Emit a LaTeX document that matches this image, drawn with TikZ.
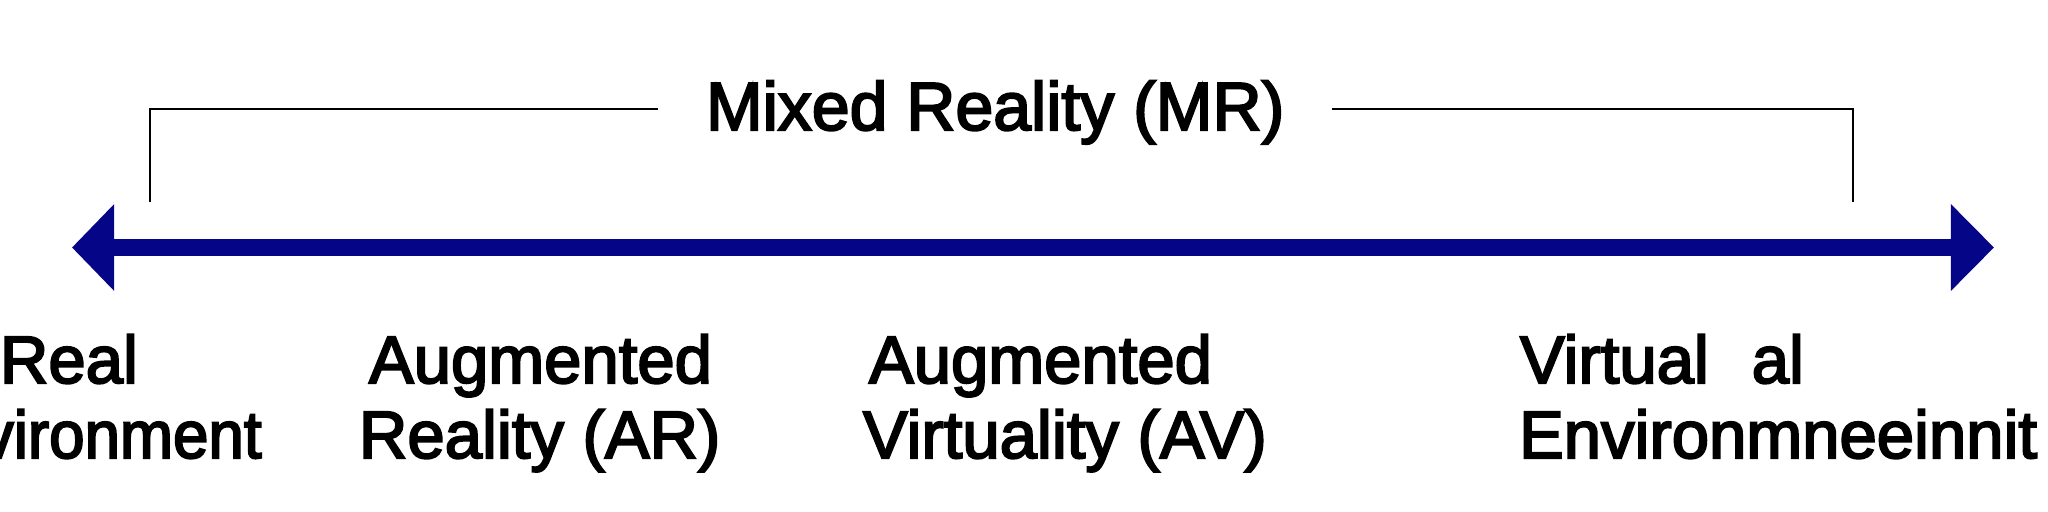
\documentclass[tikz,border=0pt]{standalone}
\usepackage{fontspec}
\setmainfont{Liberation Sans}[FakeBold=3]
\usetikzlibrary{arrows.meta}
\definecolor{axisnavy}{RGB}{5,5,135}
\begin{document}
\begin{tikzpicture}[x=0.01cm,y=-0.01cm,
  lbl/.style={inner sep=0pt,outer sep=0pt,anchor=base west,font=\fontsize{19.07pt}{22pt}\selectfont},
  bracket/.style={line width=0.025cm,black},
  axis/.style={line width=0.17cm,axisnavy,{Triangle[length=0.42cm,width=0.84cm]}-{Triangle[length=0.43cm,width=0.84cm]}}]
\useasboundingbox (0,0) rectangle (2048,512);
\clip (0,0) rectangle (2048,512);
% axis
\coordinate (L) at (72,247.5);
\coordinate (R) at (1994,247.5);
\draw[axis] (L) -- (R);
% Mixed reality bracket
\node[lbl,font=\fontsize{19.35pt}{22pt}\selectfont] (mr) at (706,130) {Mixed Reality (MR)};
\coordinate (bl) at (150,202);
\coordinate (blt) at (658,109);
\coordinate (brt) at (1332,109);
\coordinate (br) at (1853,202);
\draw[bracket] (bl) |- (blt);
\draw[bracket] (brt) -| (br);
% labels
\node[lbl] (re1) at (0,383) {Real};
\node[lbl,xscale=0.95] (re2) at (-96,458) {Environment};
\node[lbl] (ar1) at (369,383) {Augmented};
\node[lbl] (ar2) at (359,458) {Reality (AR)};
\node[lbl] (av1) at (869,383) {Augmented};
\node[lbl] (av2) at (863,458) {Virtuality (AV)};
\node[lbl] (ve1) at (1520,383) {Virtual\hspace{0.64em}al};
\node[lbl] (ve2) at (1519,458) {Environmneeinnit};
\end{tikzpicture}
\end{document}
